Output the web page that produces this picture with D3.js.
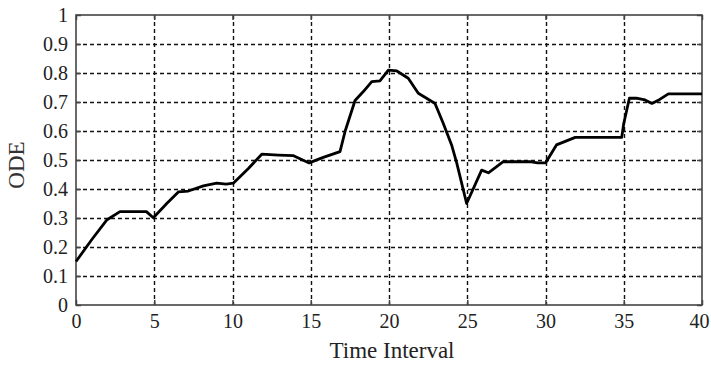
<!DOCTYPE html>
<html>
<head>
<meta charset="utf-8">
<script src="https://cdn.jsdelivr.net/npm/d3@7"></script>
<style>
  body { margin: 0; background: #fff; }
</style>
</head>
<body>
<svg id="chart" width="711" height="365"></svg>
<script>
// values
const timeX = [0, 1, 1.96, 2.81, 4.5, 4.94, 5.8, 6.54, 7.18, 8.14, 8.99, 9.6, 10.05,
  11, 11.87, 12.93, 13.9, 14.9, 15.8, 16.87, 17.2, 17.83, 18.36, 18.9, 19.42, 19.96,
  20.5, 21.23, 21.87, 22.4, 22.94, 23.47, 24, 24.33, 24.96, 25.92, 26.35, 27.3, 29,
  29.5, 30, 30.7, 31.9, 34.87, 35.0, 35.36, 35.8, 36.36, 36.8, 37.3, 37.85, 40];
const odeY = [0.15, 0.225, 0.293, 0.322, 0.322, 0.301, 0.35, 0.39, 0.393, 0.411, 0.42, 0.417, 0.42,
  0.47, 0.52, 0.517, 0.515, 0.49, 0.509, 0.529, 0.6, 0.705, 0.736, 0.77, 0.773, 0.81,
  0.807, 0.782, 0.73, 0.713, 0.695, 0.626, 0.552, 0.489, 0.35, 0.465, 0.456, 0.494, 0.494,
  0.49, 0.49, 0.552, 0.578, 0.578, 0.626, 0.713, 0.713, 0.707, 0.695, 0.709, 0.728, 0.728];
const xTicks = [0, 5, 10, 15, 20, 25, 30, 35, 40];
const yTicks = [0, 0.1, 0.2, 0.3, 0.4, 0.5, 0.6, 0.7, 0.8, 0.9, 1];

const serif = '"Liberation Serif", "DejaVu Serif", serif';

const margin = { top: 15, right: 9, bottom: 60, left: 76 },
    width = 711 - margin.left - margin.right,
    height = 365 - margin.top - margin.bottom;

const svg = d3.select('#chart');
const g = svg.append('g')
    .attr('transform', `translate(${margin.left},${margin.top})`);

const x = d3.scaleLinear().domain([0, 40]).range([0, width]);
const y = d3.scaleLinear().domain([0, 1]).range([height, 0]);

// dashed grid
g.append('g').selectAll('line')
    .data(xTicks.slice(1, -1))
    .enter().append('line')
    .attr('x1', d => Math.round(x(d)) + 0.5).attr('x2', d => Math.round(x(d)) + 0.5)
    .attr('y1', 0).attr('y2', height)
    .attr('stroke', '#111').attr('stroke-width', 1.4)
    .attr('stroke-dasharray', '4,3');

g.append('g').selectAll('line')
    .data(yTicks.slice(1, -1))
    .enter().append('line')
    .attr('y1', d => Math.round(y(d)) + 0.5).attr('y2', d => Math.round(y(d)) + 0.5)
    .attr('x1', 0).attr('x2', width)
    .attr('stroke', '#111').attr('stroke-width', 1.4)
    .attr('stroke-dasharray', '4,3');

// axes, ticks pointing inward
const xAxis = g.append('g')
    .attr('transform', `translate(0,${height})`)
    .call(d3.axisBottom(x).tickValues(xTicks).tickSize(-5).tickPadding(9).tickFormat(d3.format('d')));
g.append('g')
    .call(d3.axisLeft(y).tickValues(yTicks).tickSize(-5).tickPadding(8)
        .tickFormat(d => d === 0 || d === 1 ? d : d3.format('.1f')(d)));
g.append('g')
    .call(d3.axisTop(x).tickValues(xTicks).tickSize(-5).tickFormat(''));
g.append('g')
    .attr('transform', `translate(${width},0)`)
    .call(d3.axisRight(y).tickValues(yTicks).tickSize(-5).tickFormat(''));

g.selectAll('.domain').remove();
g.selectAll('.tick line').attr('stroke', '#444').attr('stroke-width', 1.5);
g.selectAll('.tick text')
    .attr('fill', '#222')
    .style('font-family', serif)
    .style('font-size', '20px');
// keep the last label inside the page
xAxis.selectAll('.tick text').filter(d => d === 40).attr('dx', -3);

// frame
g.append('rect')
    .attr('x', 0).attr('y', 0)
    .attr('width', width).attr('height', height)
    .attr('fill', 'none')
    .attr('stroke', '#444').attr('stroke-width', 1.6);

// data line
const line = d3.line()
    .x((d, i) => x(timeX[i]))
    .y(d => y(d));

g.append('path')
    .datum(odeY)
    .attr('d', line)
    .attr('fill', 'none')
    .attr('stroke', '#000')
    .attr('stroke-width', 2.8)
    .attr('stroke-linejoin', 'round');

// axis titles
svg.append('text')
    .attr('x', margin.left + width / 2 + 3)
    .attr('y', 358)
    .attr('text-anchor', 'middle')
    .attr('fill', '#222')
    .style('font-family', serif)
    .style('font-size', '23px')
    .text('Time Interval');

svg.append('text')
    .attr('transform', 'translate(24,165) rotate(-90)')
    .attr('text-anchor', 'middle')
    .attr('fill', '#333')
    .style('font-family', serif)
    .style('font-size', '23px')
    .text('ODE');
</script>
</body>
</html>
